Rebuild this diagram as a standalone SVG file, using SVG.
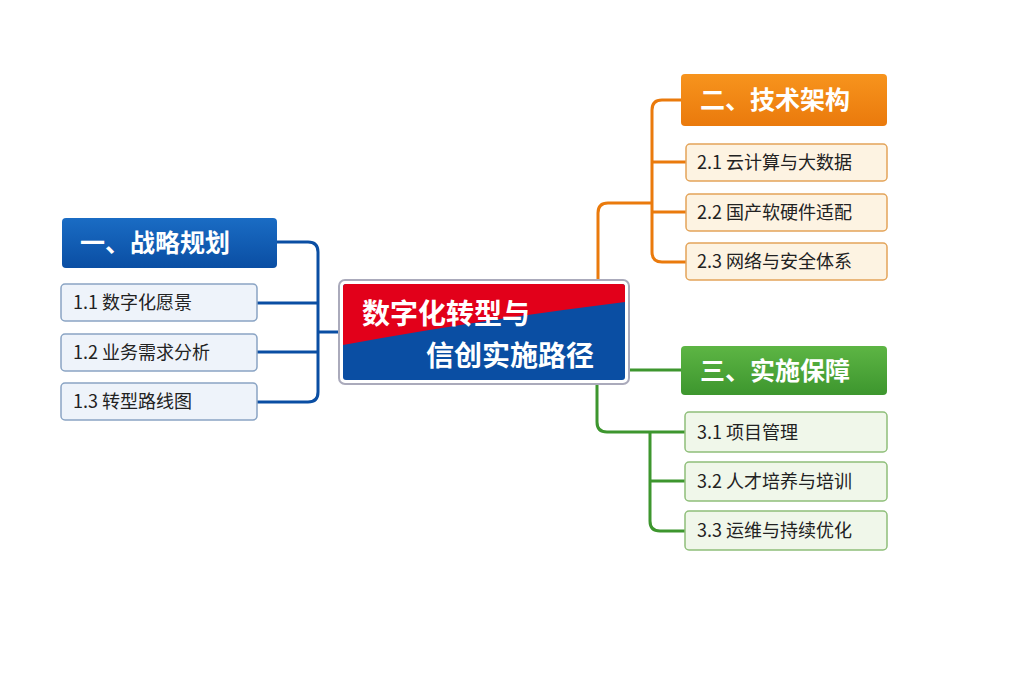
<svg xmlns="http://www.w3.org/2000/svg" width="1024" height="683" viewBox="0 0 1024 683">
<defs>
<linearGradient id="gb" x1="0" y1="0" x2="0" y2="1"><stop offset="0" stop-color="#1a6cc4"/><stop offset="1" stop-color="#0a4ea3"/></linearGradient>
<linearGradient id="go" x1="0" y1="0" x2="0" y2="1"><stop offset="0" stop-color="#f7941d"/><stop offset="1" stop-color="#ea7a0c"/></linearGradient>
<linearGradient id="gg" x1="0" y1="0" x2="0" y2="1"><stop offset="0" stop-color="#5db544"/><stop offset="1" stop-color="#3d962e"/></linearGradient>
</defs>
<style>
text{font-family:"Noto Sans CJK SC","Noto Sans",sans-serif;}
.h{fill:#fff;font-size:25px;font-weight:bold;}
.t{fill:#222;font-size:18px;}
.c{fill:none;stroke-width:3;stroke-linejoin:round;}
.bi{fill:#eef3fa;stroke:#8aa4c4;stroke-width:1.5;}
.oi{fill:#fdf3e2;stroke:#e3a45a;stroke-width:1.5;}
.gi{fill:#f0f7ea;stroke:#8fbf7a;stroke-width:1.5;}
</style>
<rect width="1024" height="683" fill="#fff"/>
<g id="connectors">
<path class="c" stroke="#0a4ea3" d="M277 242 H308 Q318 242 318 252 V392 Q318 402 308 402 H257 M257 303 H318 M257 352 H318 M318 332 H340"/>
<path class="c" stroke="#ea7a0c" d="M598 281 V213 Q598 203 608 203 H652 M681 100 H662 Q652 100 652 110 V252 Q652 262 662 262 H686 M652 162 H686 M652 212 H686"/>
<path class="c" stroke="#3d962e" d="M628 370 H681 M597 383 V422 Q597 432 607 432 H685 M650 432 V521 Q650 531 660 531 H685 M650 481 H685"/>
</g>
<g id="center">
<rect x="339" y="280" width="290" height="104" rx="6" fill="#fff" stroke="#aab" stroke-width="2"/>
<rect x="343" y="284" width="282" height="96" rx="3" fill="#0a4ea3"/>
<path d="M346 284 H622 Q625 284 625 287 V302 Q480 320 343 345 V287 Q343 284 346 284 Z" fill="#e2001a"/>
<text x="362" y="324" fill="#fff" font-size="28" font-weight="bold">数字化转型与</text>
<text x="426" y="366" fill="#fff" font-size="28" font-weight="bold">信创实施路径</text>
</g>
<g id="n1"><rect x="62" y="218" width="215" height="50" rx="4" fill="url(#gb)"/><text class="h" x="80" y="252">一、战略规划</text></g>
<g id="n11"><rect class="bi" x="61" y="284" width="196" height="37" rx="4"/><text class="t" x="73" y="309">1.1 数字化愿景</text></g>
<g id="n12"><rect class="bi" x="61" y="334" width="196" height="37" rx="4"/><text class="t" x="73" y="359">1.2 业务需求分析</text></g>
<g id="n13"><rect class="bi" x="61" y="383" width="196" height="37" rx="4"/><text class="t" x="73" y="408">1.3 转型路线图</text></g>
<g id="n2"><rect x="681" y="74" width="206" height="52" rx="4" fill="url(#go)"/><text class="h" x="700" y="109">二、技术架构</text></g>
<g id="n21"><rect class="oi" x="686" y="144" width="201" height="37" rx="4"/><text class="t" x="697" y="169">2.1 云计算与大数据</text></g>
<g id="n22"><rect class="oi" x="686" y="194" width="201" height="37" rx="4"/><text class="t" x="697" y="219">2.2 国产软硬件适配</text></g>
<g id="n23"><rect class="oi" x="686" y="243" width="201" height="37" rx="4"/><text class="t" x="697" y="268">2.3 网络与安全体系</text></g>
<g id="n3"><rect x="681" y="346" width="206" height="49" rx="4" fill="url(#gg)"/><text class="h" x="700" y="380">三、实施保障</text></g>
<g id="n31"><rect class="gi" x="685" y="412" width="202" height="40" rx="4"/><text class="t" x="697" y="439">3.1 项目管理</text></g>
<g id="n32"><rect class="gi" x="685" y="462" width="202" height="39" rx="4"/><text class="t" x="697" y="488">3.2 人才培养与培训</text></g>
<g id="n33"><rect class="gi" x="685" y="511" width="202" height="39" rx="4"/><text class="t" x="697" y="537">3.3 运维与持续优化</text></g>
</svg>
